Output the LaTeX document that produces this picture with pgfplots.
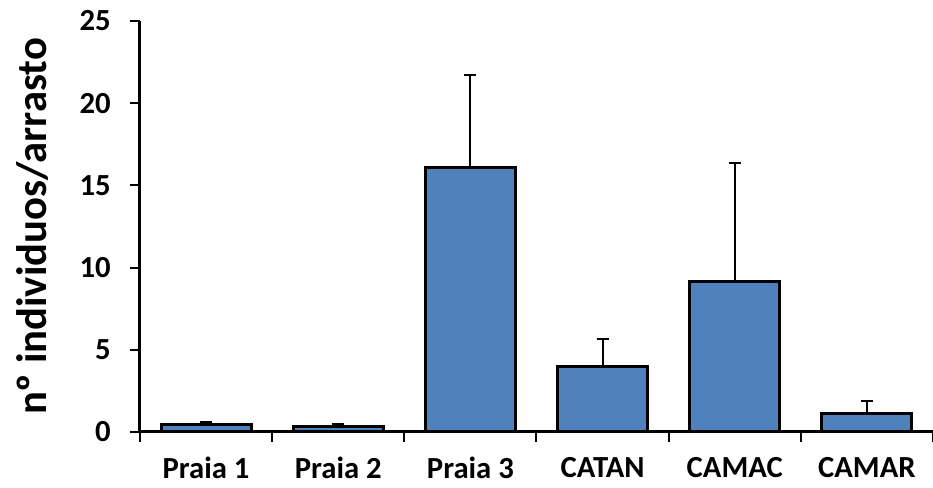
\documentclass[border=0pt]{standalone}
\usepackage{fontspec}
\setmainfont{Carlito}
\usepackage{pgfplots}
\pgfplotsset{compat=1.18}
\definecolor{barblue}{HTML}{4F81BD}
\begin{document}
\begin{tikzpicture}
\begin{axis}[
  scale only axis,
  width=594.75pt, height=308.25pt,
  xmin=-0.5, xmax=5.5,
  ymin=0, ymax=25,
  ytick={0,5,10,15,20,25},
  xtick={0,1,2,3,4,5},
  xticklabels={Praia 1,Praia 2,Praia 3,CATAN,CAMAC,CAMAR},
  minor xtick={-0.5,0.5,1.5,2.5,3.5,4.5,5.5},
  axis x line*=bottom,
  axis y line*=left,
  axis line style={line width=2.25pt, -},
  tick align=outside,
  major tick length=7.5pt,
  minor tick length=7.5pt,
  x tick style={draw=none},
  minor x tick style={draw=black, line width=1.5pt},
  y tick style={line width=1.5pt, black},
  /pgf/number format/assume math mode=true,
  tick label style={font=\fontsize{23}{26}\selectfont\bfseries},
  xticklabel style={yshift=-8pt},
  yticklabel style={xshift=-11pt},
  ylabel={nº individuos/arrasto},
  ylabel style={font=\fontsize{32}{36}\selectfont\bfseries, at={(axis description cs:-0.135,0.5)}, anchor=center},
  clip=false,
]
\addplot[ybar, bar width=0.68, fill=barblue, draw=black, line width=2.25pt,
  error bars/.cd, y dir=plus, y explicit,
  error bar style={line width=1.5pt, black},
  error mark options={rotate=90, mark size=4.5pt, line width=1.5pt, black}]
  coordinates {
  (0,0.45) +- (0,0.15)
  (1,0.35) +- (0,0.12)
  (2,16.1) +- (0,5.6)
  (3,4.0) +- (0,1.65)
  (4,9.18) +- (0,7.2)
  (5,1.1) +- (0,0.8)
  };
\end{axis}
\pgfresetboundingbox
\path (current axis.south west) ++(-105pt,-42pt) rectangle ++(699.75pt,366pt);
\end{tikzpicture}
\end{document}
